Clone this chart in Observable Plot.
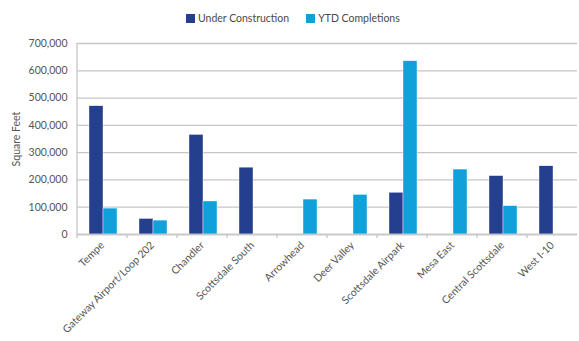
<!DOCTYPE html>
<html><head><meta charset="utf-8">
<script src="https://cdn.jsdelivr.net/npm/d3@7"></script>
<script src="https://cdn.jsdelivr.net/npm/@observablehq/plot@0.6"></script>
<style>
body{margin:0;background:#fff;font-family:Lato,sans-serif;}
#legend{height:30px;display:flex;align-items:center;padding-left:186px;padding-top:6px;box-sizing:border-box;font-size:10.5px;color:#4a4a4a;}
.item{display:flex;align-items:center;margin-right:17px;}
.sw{width:9px;height:9px;margin-right:3px;}
</style></head>
<body>
<div id="legend"></div>
<div id="chart"></div>
<script>
const categories = ["Tempe","Gateway Airport/Loop 202","Chandler","Scottsdale South","Arrowhead","Deer Valley","Scottsdale Airpark","Mesa East","Central Scottsdale","West I-10"];
const series = ["Under Construction","YTD Completions"];
const underConstruction = [470000,57000,365000,245000,null,null,153000,null,214000,250000];
const ytdCompletions = [95000,51000,121000,null,128000,145000,635000,238000,104000,null];
const yTicks = [0,100000,200000,300000,400000,500000,600000,700000];
const colors = ["#243f8e","#10a0da"];

const data = [];
categories.forEach((c,i)=>{
  data.push({category:c, series:series[0], value:underConstruction[i]});
  data.push({category:c, series:series[1], value:ytdCompletions[i]});
});

const legend = document.getElementById("legend");
series.forEach((s,i)=>{
  const it = document.createElement("div"); it.className="item";
  const sw = document.createElement("div"); sw.className="sw"; sw.style.background=colors[i];
  const t = document.createElement("span"); t.textContent=s;
  it.appendChild(sw); it.appendChild(t); legend.appendChild(it);
});

const chart = Plot.plot({
  width:579, height:311,
  marginTop:13, marginBottom:107, marginLeft:75, marginRight:1,
  style:{fontFamily:"Lato, sans-serif", fontSize:"10.5px", color:"#555", background:"#fff"},
  fx:{domain:categories, padding:0, label:null, tickRotate:-45, tickSize:0, tickPadding:9},
  x:{domain:series, paddingInner:0, paddingOuter:0.667, align:0.55, axis:null},
  y:{domain:[0,700000], ticks:yTicks, tickFormat:d3.format(","), tickSize:0, tickPadding:10,
     label:"Square Feet", labelAnchor:"center", labelArrow:"none", labelOffset:65},
  color:{domain:series, range:colors},
  marks:[
    Plot.gridY(yTicks, {stroke:"#c6c6c6", strokeOpacity:1, strokeWidth:1.3}),
    Plot.barY(data, {fx:"category", x:"series", y:"value", fill:"series", stroke:"#fff", strokeWidth:0.4}),
    Plot.ruleY([0], {stroke:"#c6c6c6", strokeWidth:1.3})
  ]
});
document.getElementById("chart").appendChild(chart);

// axis line and category boundary ticks from the plot's own scales
const fx = chart.scale("fx"), y = chart.scale("y");
const svg = d3.select(chart);
const y0 = y.apply(0), yTop = y.apply(700000);
const left = fx.apply(categories[0]);
const g = svg.append("g").attr("stroke","#c6c6c6").attr("stroke-width",1.3);
g.append("line").attr("x1",left).attr("x2",left).attr("y1",yTop).attr("y2",y0+4);
categories.forEach((c,i)=>{
  if(i===0) return;
  const xx = fx.apply(c);
  g.append("line").attr("x1",xx).attr("x2",xx).attr("y1",y0).attr("y2",y0+4);
});
</script>
</body></html>
